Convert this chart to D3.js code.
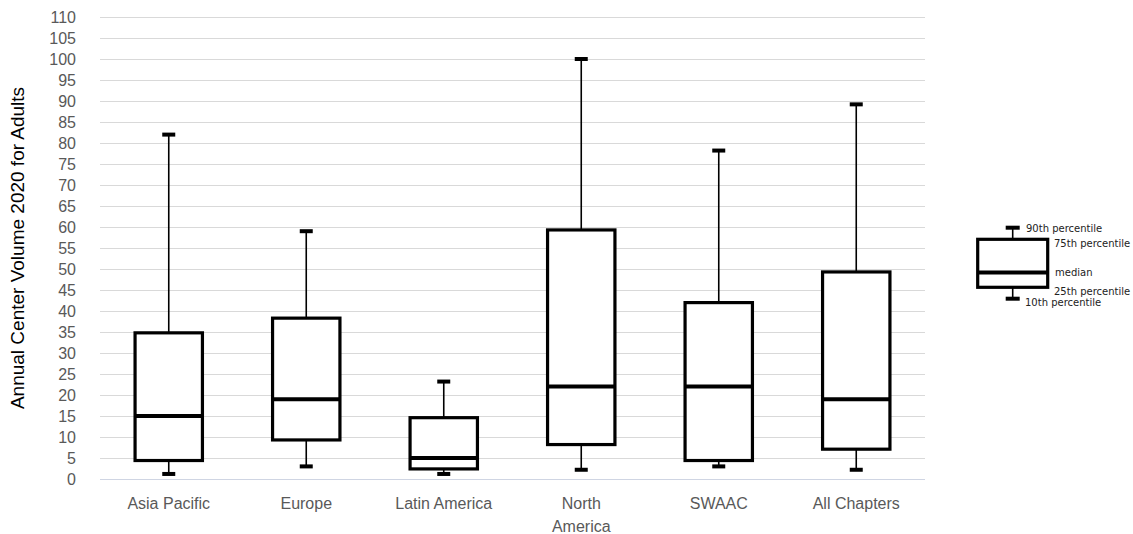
<!DOCTYPE html>
<html>
  <head>
    <meta charset="utf-8">
    <style>
      body { margin: 0; background: #fff; }
      text { font-family: "Liberation Sans", Arial, sans-serif; }
    </style>
  </head>
  <body>
    <svg id="chart"></svg>
  </body>
</html>

<script src="https://d3js.org/d3.v7.min.js"></script>

<script>
  const WIDTH = 1133
  const HEIGHT = 534

  // data
  const categories = ['Asia Pacific', 'Europe', 'Latin America', 'North America', 'SWAAC', 'All Chapters']
  const p10 = [1.2, 3.0, 1.2, 2.2, 3.0, 2.2]
  const p25 = [4.4, 9.3, 2.4, 8.2, 4.4, 7.1]
  const median = [15.0, 19.0, 5.0, 22.0, 22.0, 19.0]
  const p75 = [34.8, 38.3, 14.6, 59.3, 42.0, 49.3]
  const p90 = [82.0, 59.0, 23.2, 100.0, 78.2, 89.2]
  const yTicks = d3.range(0, 111, 5)
  const legendLabels = ['90th percentile', '75th percentile', 'median', '25th percentile', '10th percentile']

  const margin = {left: 100, right: 208, top: 17, bottom: 55}

  let svg = d3.select('#chart')
    .attr('width', WIDTH)
    .attr('height', HEIGHT)

  let x = d3.scaleBand()
    .domain(categories)
    .range([margin.left, WIDTH - margin.right])

  let y = d3.scaleLinear()
    .domain([0, 110])
    .range([HEIGHT - margin.bottom, margin.top])

  // gridlines
  svg.append('g')
    .selectAll('line')
    .data(yTicks.filter(d => d > 0))
    .enter()
    .append('line')
    .attr('x1', margin.left)
    .attr('x2', WIDTH - margin.right)
    .attr('y1', d => Math.round(y(d)) + 0.5)
    .attr('y2', d => Math.round(y(d)) + 0.5)
    .attr('stroke', '#d9d9d9')
    .attr('stroke-width', 1)

  // baseline
  svg.append('line')
    .attr('x1', margin.left)
    .attr('x2', WIDTH - margin.right)
    .attr('y1', Math.round(y(0)) + 0.5)
    .attr('y2', Math.round(y(0)) + 0.5)
    .attr('stroke', '#cfd5e3')
    .attr('stroke-width', 1.2)

  // y axis labels
  let yAxis = d3.axisLeft(y).tickValues(yTicks).tickSize(0).tickPadding(0)
  let yg = svg.append('g')
    .attr('transform', 'translate(76,0)')
    .call(yAxis)
  yg.select('.domain').remove()
  yg.selectAll('text')
    .attr('fill', '#595959')
    .style('font-size', '16px')
    .style('font-family', '"Liberation Sans", Arial, sans-serif')

  // y axis title
  svg.append('text')
    .attr('transform', 'translate(24,' + y(55) + ') rotate(-90)')
    .attr('text-anchor', 'middle')
    .attr('fill', '#000')
    .style('font-size', '19px')
    .text('Annual Center Volume 2020 for Adults')

  // x axis labels, wrapped like the original
  let xg = svg.append('g')
  categories.forEach(function(c) {
    let lines = c === 'North America' ? ['North', 'America'] : [c]
    let t = xg.append('text')
      .attr('x', x(c) + x.bandwidth() / 2)
      .attr('y', 509)
      .attr('text-anchor', 'middle')
      .attr('fill', '#595959')
      .style('font-size', '16px')
    lines.forEach(function(l, i) {
      t.append('tspan')
        .attr('x', x(c) + x.bandwidth() / 2)
        .attr('dy', i === 0 ? 0 : 23)
        .text(l)
    })
  })

  // boxes
  const boxW = x.bandwidth() * 0.49
  const capW = 13

  function drawBox(g, cx, yp10, yp25, ymed, yp75, yp90, bw, cw) {
    // whiskers
    g.append('line')
      .attr('x1', cx).attr('x2', cx)
      .attr('y1', yp90).attr('y2', yp75)
      .attr('stroke', '#000').attr('stroke-width', 1.6)
    g.append('line')
      .attr('x1', cx).attr('x2', cx)
      .attr('y1', yp25).attr('y2', yp10)
      .attr('stroke', '#000').attr('stroke-width', 1.6)
    // caps
    g.append('rect')
      .attr('x', cx - cw / 2).attr('y', yp90 - 2)
      .attr('width', cw).attr('height', 4)
      .attr('fill', '#000')
    g.append('rect')
      .attr('x', cx - cw / 2).attr('y', yp10 - 2)
      .attr('width', cw).attr('height', 4)
      .attr('fill', '#000')
    // box
    g.append('rect')
      .attr('x', cx - bw / 2).attr('y', yp75)
      .attr('width', bw).attr('height', yp25 - yp75)
      .attr('fill', '#fff')
      .attr('stroke', '#000')
      .attr('stroke-width', 3.2)
    // median
    g.append('line')
      .attr('x1', cx - bw / 2).attr('x2', cx + bw / 2)
      .attr('y1', ymed).attr('y2', ymed)
      .attr('stroke', '#000').attr('stroke-width', 4)
  }

  let boxes = svg.append('g')
  categories.forEach(function(c, i) {
    let cx = x(c) + x.bandwidth() / 2
    drawBox(boxes, cx, y(p10[i]), y(p25[i]), y(median[i]), y(p75[i]), y(p90[i]), boxW, capW)
  })

  // legend
  let lg = svg.append('g')
  let lx = 1012.7
  drawBox(lg, lx, 298.7, 287.3, 272.5, 239.3, 227.7, 70, 14)

  const legendPos = [[1026, 228], [1054, 243], [1055, 272], [1054, 291], [1025, 302]]
  lg.selectAll('text.leg')
    .data(legendLabels)
    .enter()
    .append('text')
    .attr('class', 'leg')
    .attr('x', (d, i) => legendPos[i][0])
    .attr('y', (d, i) => legendPos[i][1])
    .attr('dy', '0.35em')
    .attr('fill', '#222')
    .style('font-size', '10px')
    .style('font-family', '"DejaVu Sans", Verdana, sans-serif')
    .text(d => d)
</script>
